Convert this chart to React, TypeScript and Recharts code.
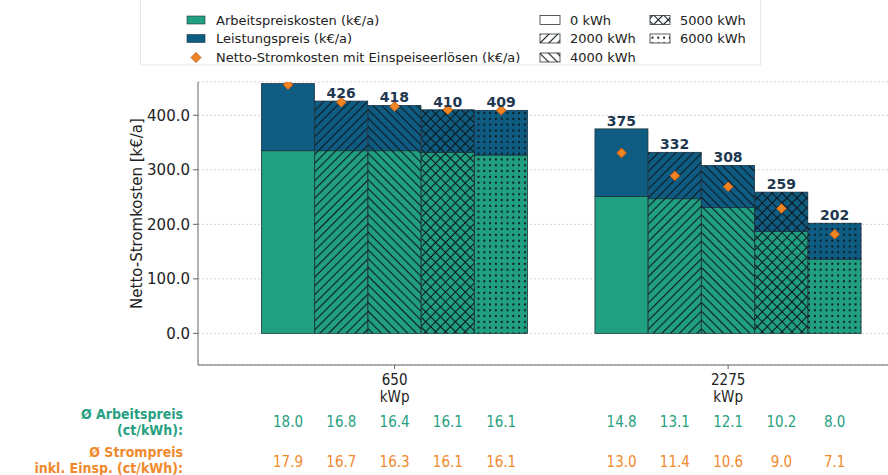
import React from "react"
import { ComposedChart, Bar, Scatter, XAxis, YAxis, CartesianGrid, LabelList } from "recharts"

const GROUPS = ["650", "2275"]
const SCENARIOS = ["0 kWh", "2000 kWh", "4000 kWh", "5000 kWh", "6000 kWh"]
const PATTERNS = ["none", "fwd", "back", "cross", "dots"]

// k€/a, je Balken (5 Szenarien pro Anlagengröße)
const arbeitspreiskosten = [335, 335, 335, 332, 327, 251, 247, 231, 187, 136]
const leistungspreis = [123, 91, 83, 78, 82, 124, 85, 77, 72, 66]
const nettoStromkosten = [456, 424, 416, 410, 409, 331, 289, 269, 229, 182]

// ct/kWh
const arbeitspreisCt = [18.0, 16.8, 16.4, 16.1, 16.1, 14.8, 13.1, 12.1, 10.2, 8.0]
const strompreisCt = [17.9, 16.7, 16.3, 16.1, 16.1, 13.0, 11.4, 10.6, 9.0, 7.1]

const yTicks = [0, 100, 200, 300, 400]

const GREEN = "#21a07f"
const BLUE = "#0f5c82"
const ORANGE = "#f28522"
const NAVY = "#1e3750"
const GREEN_TXT = "#27a07f"
const ORANGE_TXT = "#f08a2c"
const HATCH = "#0b1820"
const SANS = "'DejaVu Sans', sans-serif"
const COND = "'DejaVu Sans Condensed', 'DejaVu Sans', sans-serif"

const PLOT_TOP = 82
const GROUP_STEP = 6.26

const data = arbeitspreiskosten.map((a, i) => {
  const g = Math.floor(i / 5)
  const k = i % 5
  return {
    x: g * GROUP_STEP + k,
    arbeit: a,
    leistung: leistungspreis[i],
    netto: nettoStromkosten[i],
    total: a + leistungspreis[i],
    pattern: PATTERNS[k],
  }
})
const groupTicks = GROUPS.map((_, g) => g * GROUP_STEP + 2)
const barTicks = data.map((d) => d.x)

const PatternDefs = () => (
  <defs>
    <pattern id="hatch-fwd" patternUnits="userSpaceOnUse" width="6.2" height="6.2" patternTransform="rotate(45)">
      <line x1="3.1" y1="0" x2="3.1" y2="6.2" stroke={HATCH} strokeWidth="1.1" />
    </pattern>
    <pattern id="hatch-back" patternUnits="userSpaceOnUse" width="6.2" height="6.2" patternTransform="rotate(-45)">
      <line x1="3.1" y1="0" x2="3.1" y2="6.2" stroke={HATCH} strokeWidth="1.1" />
    </pattern>
    <pattern id="hatch-cross" patternUnits="userSpaceOnUse" width="7" height="7" patternTransform="rotate(45)">
      <line x1="3.5" y1="0" x2="3.5" y2="7" stroke={HATCH} strokeWidth="1.1" />
      <line x1="0" y1="3.5" x2="7" y2="3.5" stroke={HATCH} strokeWidth="1.1" />
    </pattern>
    <pattern id="hatch-dots" patternUnits="userSpaceOnUse" width="5.8" height="5.8">
      <circle cx="2.9" cy="2.9" r="1.1" fill={HATCH} />
    </pattern>
  </defs>
)

const HatchRect = (props: any) => {
  const { x, y, width, height, payload, fill } = props
  if (!height || height <= 0) return null
  const p = payload.pattern
  return (
    <g>
      <rect x={x} y={y} width={width} height={height} fill={fill} stroke="#1d3442" strokeWidth={0.8} />
      {p !== "none" && <rect x={x} y={y} width={width} height={height} fill={`url(#hatch-${p})`} />}
    </g>
  )
}

const DiamondDot = (props: any) => {
  const { cx, cy } = props
  const r = 5
  return (
    <polygon
      points={`${cx},${cy - r} ${cx + r},${cy} ${cx},${cy + r} ${cx - r},${cy}`}
      fill={ORANGE}
      stroke="#a8511a"
      strokeWidth={0.8}
    />
  )
}

const TotalLabel = (props: any) => {
  const { x, y, width, value } = props
  // label of the tallest bar lies outside the plot in the original
  if (y - 14 < PLOT_TOP) return null
  return (
    <text x={x + width / 2} y={y - 3} textAnchor="middle" fill={NAVY} fontWeight="bold" fontSize={14} fontFamily={SANS}>
      {Math.round(value)}
    </text>
  )
}

const GroupTick = (props: any) => {
  const { x, y, index } = props
  return (
    <g fontFamily={COND} fontSize={15} fill="#222">
      <text x={x} y={y + 14} textAnchor="middle">{GROUPS[index]}</text>
      <text x={x} y={y + 31} textAnchor="middle">kWp</text>
    </g>
  )
}

const TableTick = (props: any) => {
  const { x, y, index } = props
  return (
    <g fontFamily={COND} fontSize={15}>
      <text x={x} y={y + 22} textAnchor="middle" fill={GREEN_TXT}>{arbeitspreisCt[index].toFixed(1)}</text>
      <text x={x} y={y + 62} textAnchor="middle" fill={ORANGE_TXT}>{strompreisCt[index].toFixed(1)}</text>
    </g>
  )
}

const RowLabels = (props: any) => {
  const vb = props.viewBox || { x: 198, y: 405 }
  const rx = vb.x - 15
  return (
    <g fontFamily={COND} fontSize={14} fontWeight="bold" textAnchor="end">
      <text x={rx} y={vb.y + 14} fill={GREEN_TXT}>Ø Arbeitspreis</text>
      <text x={rx} y={vb.y + 29.5} fill={GREEN_TXT}>(ct/kWh):</text>
      <text x={rx} y={vb.y + 52} fill={ORANGE_TXT}>Ø Strompreis</text>
      <text x={rx} y={vb.y + 67.5} fill={ORANGE_TXT}>inkl. Einsp. (ct/kWh):</text>
    </g>
  )
}

const YLabel = (props: any) => {
  const vb = props.viewBox || { x: 0, y: 82, height: 283 }
  const cx = vb.x + 137
  const cy = vb.y + vb.height / 2 - 10
  return (
    <text x={cx} y={cy} transform={`rotate(-90 ${cx} ${cy})`} textAnchor="middle" dominantBaseline="central" fontSize={15} fill="#222" fontFamily={SANS}>
      Netto-Stromkosten [k€/a]
    </text>
  )
}

const Legend = () => {
  const rows = [20, 38.5, 57.5]
  const pattSwatch = (x: number, y: number, p: string) => (
    <g key={`${x}-${y}`}>
      <rect x={x} y={y - 4.5} width={20} height={9} fill="#fff" stroke="#333" strokeWidth={0.8} />
      {p !== "none" && <rect x={x} y={y - 4.5} width={20} height={9} fill={`url(#hatch-${p})`} />}
    </g>
  )
  return (
    <svg width={888} height={70} style={{ position: "absolute", left: 0, top: 0 }}>
      <PatternDefs />
      <rect x={140.5} y={-5} width={620} height={70} fill="#fff" stroke="#e8e8e8" />
      <g fontFamily={SANS} fontSize={13} fill="#222">
        <rect x={187} y={rows[0] - 4} width={18} height={8} fill={GREEN} stroke="#1d3442" strokeWidth={0.6} />
        <text x={216} y={rows[0] + 4.7}>Arbeitspreiskosten (k€/a)</text>
        <rect x={187} y={rows[1] - 4} width={18} height={8} fill={BLUE} stroke="#1d3442" strokeWidth={0.6} />
        <text x={216} y={rows[1] + 4.7}>Leistungspreis (k€/a)</text>
        <DiamondDot cx={196} cy={rows[2]} />
        <text x={216} y={rows[2] + 4.7}>Netto-Stromkosten mit Einspeiseerlösen (k€/a)</text>
        {SCENARIOS.map((s, k) => {
          const col = k < 3 ? 0 : 1
          const row = k < 3 ? k : k - 3
          const sx = col === 0 ? 540 : 650
          return (
            <g key={s}>
              {pattSwatch(sx, rows[row], PATTERNS[k])}
              <text x={sx + 30} y={rows[row] + 4.7}>{s}</text>
            </g>
          )
        })}
      </g>
    </svg>
  )
}

export default function App() {
  return (
    <div style={{ position: "absolute", left: 0, top: 0, width: 888, height: 475, background: "#fff", fontFamily: SANS }}>
      <ComposedChart
        width={888}
        height={475}
        data={data}
        margin={{ top: PLOT_TOP, right: 0, bottom: 0, left: 0 }}
        barCategoryGap={0}
        barGap={0}
      >
        <CartesianGrid vertical={false} stroke="#d4d4d4" strokeDasharray="2 2" />
        <XAxis
          dataKey="x"
          type="number"
          domain={[-1.69, 11.26]}
          ticks={groupTicks}
          interval={0}
          allowDataOverflow
          height={40}
          tickSize={4}
          tickMargin={2}
          tick={<GroupTick />}
          axisLine={{ stroke: "#666" }}
          tickLine={{ stroke: "#666" }}
        />
        <XAxis
          xAxisId="tbl"
          dataKey="x"
          type="number"
          domain={[-1.69, 11.26]}
          ticks={barTicks}
          interval={0}
          allowDataOverflow
          height={70}
          tickSize={0}
          tickMargin={0}
          axisLine={false}
          tickLine={false}
          tick={<TableTick />}
          label={<RowLabels />}
        />
        <YAxis
          type="number"
          domain={[-58, 461]}
          ticks={yTicks}
          allowDataOverflow
          width={198}
          tickSize={5}
          tickMargin={3}
          tickFormatter={(v: number) => v.toFixed(1)}
          tick={{ fontSize: 15, fill: "#222", fontFamily: SANS }}
          axisLine={{ stroke: "#666" }}
          tickLine={{ stroke: "#666" }}
          label={<YLabel />}
        />
        <Bar dataKey="arbeit" stackId="a" fill={GREEN} shape={<HatchRect />} isAnimationActive={false} />
        <Bar dataKey="leistung" stackId="a" fill={BLUE} shape={<HatchRect />} isAnimationActive={false}>
          <LabelList dataKey="total" content={<TotalLabel />} />
        </Bar>
        <Scatter dataKey="netto" shape={<DiamondDot />} isAnimationActive={false} />
      </ComposedChart>
      <Legend />
    </div>
  )
}
